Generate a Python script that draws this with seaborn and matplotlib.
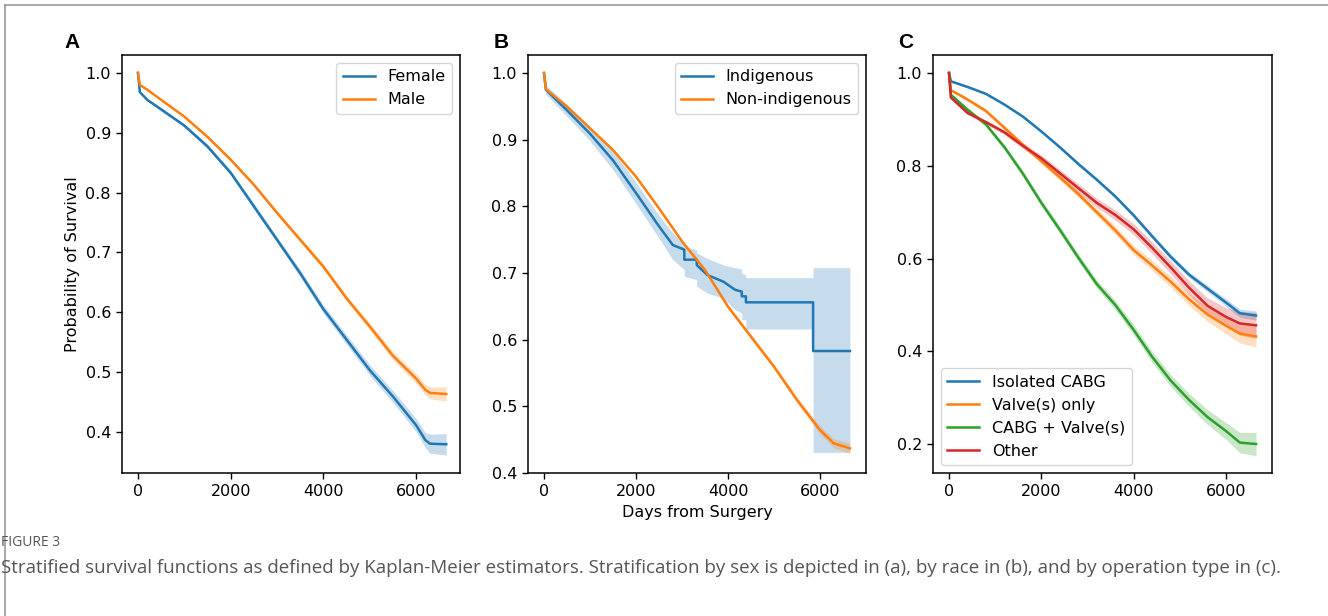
import matplotlib
matplotlib.use("Agg")
import matplotlib.pyplot as plt
import seaborn as sns
import pandas as pd
from matplotlib import font_manager
from matplotlib.lines import Line2D

# ---- panel A: sex ----
days_a = [0, 40, 200, 500, 1000, 1500, 2000, 2500, 3000, 3500, 4000, 4500, 5000, 5500, 6000, 6200, 6300, 6650]
female = [1.0, 0.968, 0.955, 0.939, 0.912, 0.877, 0.833, 0.777, 0.721, 0.665, 0.605, 0.554, 0.503, 0.459, 0.411, 0.386, 0.380, 0.379]
female_ci = [0.0, 0.002, 0.002, 0.003, 0.003, 0.004, 0.004, 0.005, 0.005, 0.006, 0.007, 0.008, 0.009, 0.010, 0.011, 0.013, 0.016, 0.018]
male = [1.0, 0.980, 0.972, 0.955, 0.927, 0.893, 0.855, 0.813, 0.766, 0.721, 0.676, 0.623, 0.576, 0.527, 0.489, 0.470, 0.465, 0.463]
male_ci = [0.0, 0.001, 0.001, 0.002, 0.002, 0.003, 0.003, 0.003, 0.004, 0.004, 0.005, 0.005, 0.006, 0.007, 0.008, 0.009, 0.010, 0.012]

# ---- panel B: race ----
ind_days = [0, 40, 500, 1000, 1500, 2000, 2500, 2800, 3050, 3050, 3320, 3320, 3550, 3900, 4150, 4300, 4300, 4390, 4390, 5850, 5850, 6650]
ind_surv = [1.0, 0.975, 0.944, 0.909, 0.869, 0.820, 0.770, 0.742, 0.735, 0.720, 0.720, 0.712, 0.697, 0.687, 0.675, 0.672, 0.665, 0.665, 0.656, 0.656, 0.583, 0.583]
ind_low = [1.0, 0.968, 0.935, 0.898, 0.855, 0.804, 0.752, 0.720, 0.705, 0.695, 0.690, 0.680, 0.670, 0.662, 0.645, 0.640, 0.630, 0.630, 0.616, 0.616, 0.431, 0.431]
ind_up = [1.0, 0.982, 0.953, 0.920, 0.883, 0.836, 0.786, 0.760, 0.742, 0.740, 0.735, 0.730, 0.722, 0.712, 0.708, 0.706, 0.700, 0.697, 0.693, 0.693, 0.708, 0.708]

days_b = [0, 40, 500, 1000, 1500, 2000, 2500, 3000, 3500, 4000, 4500, 5000, 5500, 6000, 6300, 6650]
nonind = [1.0, 0.976, 0.9495, 0.917, 0.8845, 0.8445, 0.797, 0.7475, 0.7045, 0.6495, 0.6045, 0.5595, 0.5095, 0.4645, 0.4445, 0.437]
nonind_ci = [0.0, 0.001, 0.001, 0.002, 0.002, 0.002, 0.002, 0.003, 0.003, 0.003, 0.004, 0.004, 0.005, 0.006, 0.007, 0.008]

# ---- panel C: operation type ----
days_c = [0, 40, 400, 800, 1200, 1600, 2000, 2400, 2800, 3200, 3600, 4000, 4400, 4800, 5200, 5600, 6000, 6300, 6650]
cabg = [1.0, 0.982, 0.970, 0.955, 0.932, 0.906, 0.874, 0.840, 0.804, 0.770, 0.734, 0.693, 0.648, 0.604, 0.565, 0.535, 0.505, 0.482, 0.477]
cabg_ci = [0.0, 0.001, 0.002, 0.002, 0.002, 0.003, 0.003, 0.003, 0.004, 0.004, 0.004, 0.005, 0.005, 0.006, 0.006, 0.007, 0.008, 0.009, 0.010]
valve = [1.0, 0.963, 0.943, 0.918, 0.882, 0.845, 0.810, 0.775, 0.739, 0.700, 0.661, 0.618, 0.585, 0.550, 0.512, 0.479, 0.455, 0.438, 0.432]
valve_ci = [0.0, 0.003, 0.004, 0.005, 0.005, 0.006, 0.006, 0.007, 0.007, 0.008, 0.009, 0.010, 0.011, 0.012, 0.013, 0.015, 0.017, 0.020, 0.023]
combo = [1.0, 0.953, 0.921, 0.889, 0.840, 0.783, 0.720, 0.662, 0.602, 0.545, 0.500, 0.446, 0.388, 0.337, 0.295, 0.258, 0.228, 0.203, 0.200]
combo_ci = [0.0, 0.003, 0.004, 0.005, 0.006, 0.007, 0.007, 0.008, 0.008, 0.009, 0.010, 0.011, 0.012, 0.013, 0.014, 0.016, 0.018, 0.022, 0.025]
other = [1.0, 0.947, 0.914, 0.894, 0.872, 0.843, 0.816, 0.784, 0.752, 0.720, 0.694, 0.663, 0.623, 0.581, 0.537, 0.498, 0.474, 0.460, 0.456]
other_ci = [0.0, 0.003, 0.004, 0.005, 0.005, 0.006, 0.007, 0.008, 0.009, 0.010, 0.011, 0.012, 0.013, 0.014, 0.015, 0.017, 0.020, 0.025, 0.028]

caption_title = "FIGURE 3"
caption = ("Stratified survival functions as defined by Kaplan-Meier estimators. "
           "Stratification by sex is depicted in (a), by race in (b), and by operation type in (c).")

blue, orange, green, red = sns.color_palette("tab10", 4)
FS = 11.5

W, H = 1328, 616
fig = plt.figure(figsize=(W / 100, H / 100), dpi=100)


def pos(left, right, top=55, bottom=473):
    return [left / W, 1 - bottom / H, (right - left) / W, (bottom - top) / H]


def km_panel(ax, series, loc):
    frames = []
    for label, t, s, lo, hi, c in series:
        ax.fill_between(t, lo, hi, color=c, alpha=0.25, linewidth=0)
        frames.append(pd.DataFrame({"days": t, "surv": s, "group": label}))
    df = pd.concat(frames, ignore_index=True)
    sns.lineplot(data=df, x="days", y="surv", hue="group",
                 hue_order=[x[0] for x in series],
                 palette=[x[5] for x in series],
                 estimator=None, sort=False, lw=1.8, ax=ax)
    leg = ax.get_legend()
    handles = leg.legend_handles
    labels = [t.get_text() for t in leg.texts]
    leg.remove()
    for h in handles:
        h.set_linewidth(1.8)
    ax.legend(handles, labels, loc=loc, fontsize=FS)
    ax.set_xlabel("")
    ax.set_ylabel("")
    ax.set_xticks([0, 2000, 4000, 6000])
    ax.tick_params(labelsize=FS, length=4.5, width=1)
    for sp in ax.spines.values():
        sp.set_linewidth(1.1)


def sym(s, ci):
    return [a - b for a, b in zip(s, ci)], [a + b for a, b in zip(s, ci)]


ax_a = fig.add_axes(pos(122, 460))
fl, fh = sym(female, female_ci)
ml, mh = sym(male, male_ci)
km_panel(ax_a, [("Female", days_a, female, fl, fh, blue),
                ("Male", days_a, male, ml, mh, orange)], "upper right")
ax_a.set_xlim(-345, 6947)
ax_a.set_ylim(0.331, 1.030)
ax_a.set_yticks([0.4, 0.5, 0.6, 0.7, 0.8, 0.9, 1.0])
ax_a.set_ylabel("Probability of Survival", fontsize=FS)

ax_b = fig.add_axes(pos(528, 866))
nl, nh = sym(nonind, nonind_ci)
km_panel(ax_b, [("Indigenous", ind_days, ind_surv, ind_low, ind_up, blue),
                ("Non-indigenous", days_b, nonind, nl, nh, orange)], "upper right")
ax_b.set_xlim(-348, 7000)
ax_b.set_ylim(0.4, 1.027)
ax_b.set_yticks([0.4, 0.5, 0.6, 0.7, 0.8, 0.9, 1.0])
ax_b.set_xlabel("Days from Surgery", fontsize=FS)

ax_c = fig.add_axes(pos(933, 1272))
cl, ch = sym(cabg, cabg_ci)
vl, vh = sym(valve, valve_ci)
gl, gh = sym(combo, combo_ci)
ol, oh = sym(other, other_ci)
km_panel(ax_c, [("Isolated CABG", days_c, cabg, cl, ch, blue),
                ("Valve(s) only", days_c, valve, vl, vh, orange),
                ("CABG + Valve(s)", days_c, combo, gl, gh, green),
                ("Other", days_c, other, ol, oh, red)], "lower left")
ax_c.set_xlim(-347, 6996)
ax_c.set_ylim(0.1375, 1.0388)
ax_c.set_yticks([0.2, 0.4, 0.6, 0.8, 1.0])

for letter, x in [("A", 64), ("B", 494), ("C", 898)]:
    fig.text(x / W, 1 - 43 / H, letter, fontsize=15, fontweight="bold",
             family=["Liberation Sans", "DejaVu Sans"], ha="left", va="center")

# page frame
fig.add_artist(Line2D([5 / W, 1], [1 - 5 / H] * 2, color="#9a9a9a", lw=1.2))
fig.add_artist(Line2D([5 / W] * 2, [0, 1 - 5 / H], color="#9a9a9a", lw=1.2))

try:
    font_manager.findfont("Liberation Sans Narrow", fallback_to_default=False)
    cap_font = "Liberation Sans Narrow"
except ValueError:
    cap_font = "Open Sans"

fig.text(1 / W, 1 - 542 / H, caption_title, fontsize=10, color="#555555",
         family=cap_font, ha="left", va="center")
cap = fig.text(1 / W, 1 - 568 / H, caption, fontsize=13, color="#555555",
               family=cap_font, ha="left", va="center")
renderer = fig.canvas.get_renderer()
wpx = cap.get_window_extent(renderer).width
cap.set_fontsize(13 * 1277 / wpx)

fig.savefig("out.png", dpi=100)
